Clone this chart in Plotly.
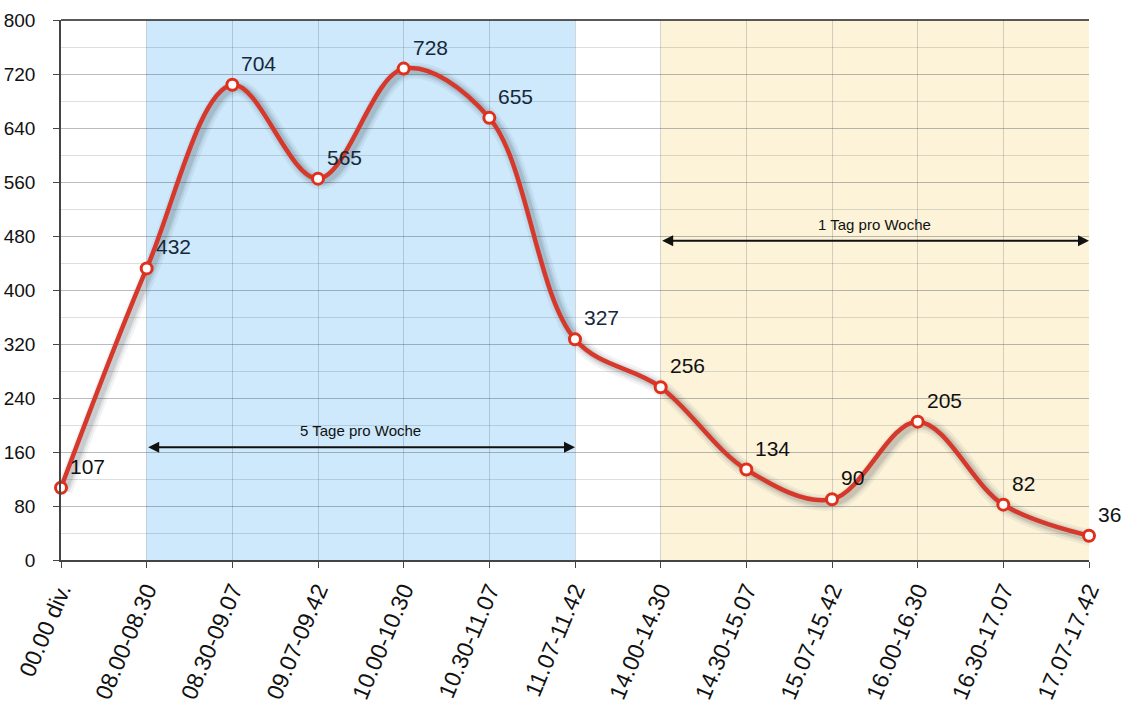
import plotly.graph_objects as go

categories = ["00.00 div.", "08.00-08.30", "08.30-09.07", "09.07-09.42", "10.00-10.30",
              "10.30-11.07", "11.07-11.42", "14.00-14.30", "14.30-15.07", "15.07-15.42",
              "16.00-16.30", "16.30-17.07", "17.07-17.42"]
values = [107, 432, 704, 565, 728, 655, 327, 256, 134, 90, 205, 82, 36]
y_ticks = [0, 80, 160, 240, 320, 400, 480, 560, 640, 720, 800]

band_labels = ["5 Tage pro Woche", "1 Tag pro Woche"]
band_ranges = [(1, 6), (7, 12)]
band_arrow_y = [167, 473]
band_colors = ["#cde9fb", "#fcf3d9"]

xs = list(range(len(categories)))
FONT = "Liberation Sans, Arial, Helvetica, sans-serif"

fig = go.Figure()

# soft shadow
for w, a in [(16, 0.06), (11, 0.09), (7, 0.12)]:
    fig.add_trace(go.Scatter(x=[x + 0.04 for x in xs], y=[v - 4 for v in values], mode="lines",
                             line=dict(shape="spline", color=f"rgba(40,50,60,{a})", width=w),
                             hoverinfo="skip", showlegend=False))

fig.add_trace(go.Scatter(
    x=xs, y=values, mode="lines+markers",
    line=dict(shape="spline", color="#d6392b", width=4.5),
    marker=dict(size=11, color="white", line=dict(color="#e0301c", width=3)),
    showlegend=False, cliponaxis=False))

for x, v in zip(xs, values):
    in_blue = 1 <= x <= 6
    fig.add_annotation(x=x, y=v, text=str(v), showarrow=False, xanchor="left", yanchor="bottom",
                       xshift=7, yshift=8, font=dict(family=FONT, size=21,
                                                      color="#15283a" if in_blue else "#111111"))

shapes = []
for (x0, x1), c in zip(band_ranges, band_colors):
    shapes.append(dict(type="rect", xref="x", yref="y", x0=x0, x1=x1, y0=0, y1=800,
                       fillcolor=c, line=dict(width=0), layer="below"))

for (x0, x1), lab, ay in zip(band_ranges, band_labels, band_arrow_y):
    fig.add_annotation(x=x1, y=ay, ax=x0, ay=ay, axref="x", ayref="y", xref="x", yref="y",
                       text="", showarrow=True, arrowside="end+start", arrowhead=2,
                       arrowsize=1.1, arrowwidth=2, arrowcolor="#111111")
    fig.add_annotation(x=(x0 + x1) / 2, y=ay, text=lab, showarrow=False, yanchor="bottom",
                       yshift=6, font=dict(family=FONT, size=15, color="#111111"))

fig.update_layout(
    width=1126, height=713,
    margin=dict(l=61, r=37, t=20, b=153, autoexpand=False),
    paper_bgcolor="white", plot_bgcolor="white",
    shapes=shapes,
    xaxis=dict(range=[0, 12], tickmode="array", tickvals=xs, ticktext=categories,
               automargin=False,
               tickangle=-67, tickfont=dict(family=FONT, size=23, color="#111111"),
               showgrid=True, gridcolor="rgba(60,70,80,0.22)", gridwidth=1,
               zeroline=False, showline=True, linecolor="#444444", linewidth=1.5,
               ticks="outside", ticklen=6, tickcolor="#444444"),
    yaxis=dict(range=[0, 800], tickmode="array", tickvals=y_ticks, automargin=False,
               tickfont=dict(family=FONT, size=19, color="#111111"), ticklabelstandoff=14,
               showgrid=True, gridcolor="rgba(60,70,80,0.22)", gridwidth=1,
               minor=dict(dtick=40, showgrid=True, gridcolor="rgba(60,70,80,0.18)", gridwidth=1),
               zeroline=False, showline=True, linecolor="#444444", linewidth=1.5,
               ticks="outside", ticklen=6, tickcolor="#444444", mirror=False),
)
# top border line
fig.add_shape(type="line", xref="paper", yref="paper", x0=0, x1=1, y0=1, y1=1,
              line=dict(color="#222222", width=1.5))

fig.write_html("out.html", config={"displayModeBar": False},
               post_script="document.body.style.margin='0';document.body.style.overflow='hidden';")
